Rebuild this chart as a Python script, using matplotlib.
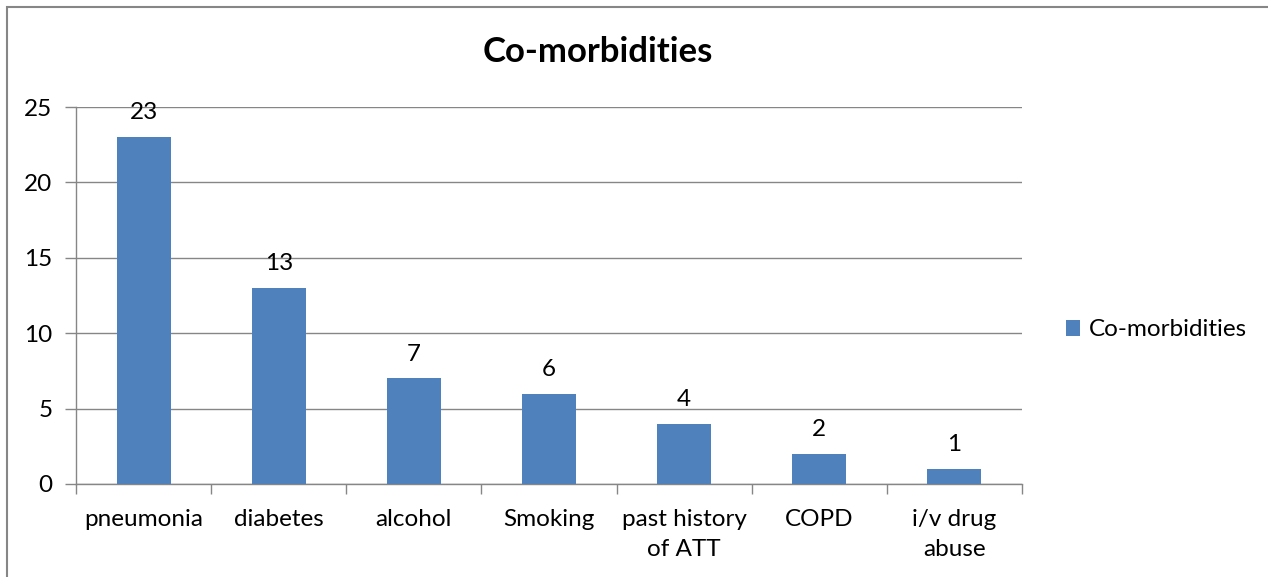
import matplotlib
matplotlib.use("Agg")
import matplotlib.pyplot as plt
from matplotlib.patches import Rectangle
import numpy as np

categories = ["pneumonia", "diabetes", "alcohol", "Smoking",
              "past history\nof ATT", "COPD", "i/v drug\nabuse"]
values = [23, 13, 7, 6, 4, 2, 1]
series_name = "Co-morbidities"
title = "Co-morbidities"
y_ticks = [0, 5, 10, 15, 20, 25]

plt.rcParams["font.family"] = ["Lato", "DejaVu Sans"]

bar_color = "#4F81BD"
grid_color = "#868686"
fs = 17.5

fig = plt.figure(figsize=(12.68, 5.77), dpi=100)
ax = fig.add_axes([76 / 1268, 1 - 484 / 577, (1022 - 76) / 1268, (484 - 107) / 577])

x = np.arange(len(categories))
bars = ax.bar(x, values, width=0.4, color=bar_color, label=series_name, zorder=3)

for xi, v in zip(x, values):
    ax.annotate(str(v), (xi, v), xytext=(0, 10), textcoords="offset points",
                ha="center", va="bottom", fontsize=fs, color="black")

ax.set_xlim(-0.5, len(categories) - 0.5)
ax.set_ylim(0, 25)
ax.set_yticks(y_ticks)
ax.set_yticklabels([str(t) for t in y_ticks], fontsize=fs)
ax.yaxis.grid(True, color=grid_color, linewidth=1.0, zorder=0)
ax.tick_params(axis="y", length=8, width=1.0, color=grid_color, pad=9)

# category labels centred under bars, tick marks on category boundaries
ax.set_xticks(x)
ax.set_xticklabels(categories, fontsize=fs, linespacing=1.55)
ax.tick_params(axis="x", length=0, pad=18)
ax.set_xticks(np.arange(len(categories) + 1) - 0.5, minor=True)
ax.tick_params(axis="x", which="minor", length=7, width=1.0, color=grid_color)

for side in ["top", "right"]:
    ax.spines[side].set_visible(False)
for side in ["left", "bottom"]:
    ax.spines[side].set_color(grid_color)
    ax.spines[side].set_linewidth(1.0)

fig.text(598 / 1268, 1 - 52 / 577, title, ha="center", va="center",
         fontsize=25, fontweight="bold")

leg = fig.legend(handles=[bars], labels=[series_name], loc="center left",
                 bbox_to_anchor=(1044 / 1268, 1 - 330 / 577), frameon=False,
                 fontsize=fs, handlelength=0.6, handleheight=0.6,
                 handletextpad=0.35)

# chart outer border
fig.patches.append(Rectangle((7 / 1268, -0.1), 1.2, 1 - 7 / 577 + 0.1,
                             transform=fig.transFigure, fill=False,
                             edgecolor=grid_color, linewidth=1.5))

fig.savefig("out.png", dpi=100)
